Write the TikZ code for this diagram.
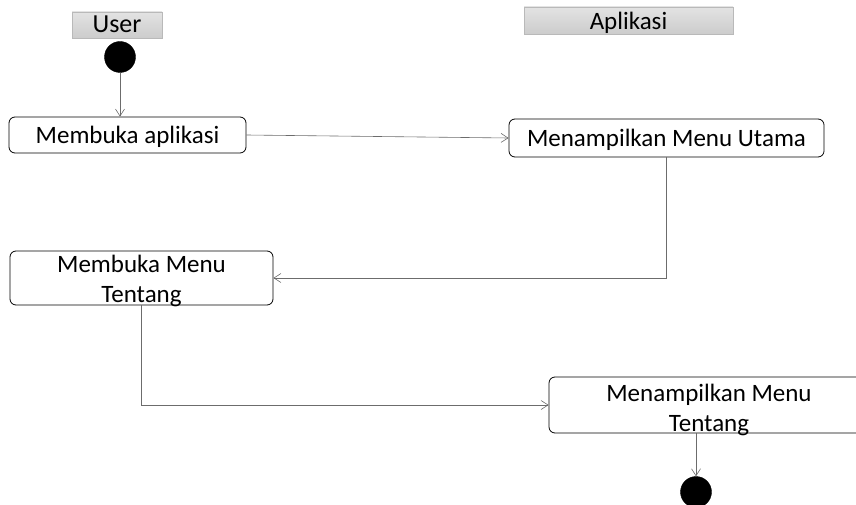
\documentclass[tikz,border=0pt]{standalone}
\usepackage{fontspec}
\setmainfont{Carlito}
\usetikzlibrary{arrows.meta}
\begin{document}
\begin{tikzpicture}[x=1pt,y=-1pt,
  lane/.style={draw=gray!55, top color=gray!22, bottom color=gray!40, inner sep=0pt, anchor=center, text height=17pt, text depth=1pt},
  act/.style={draw=black, rounded corners=6pt, line width=0.8pt, inner sep=0pt, anchor=center, font=\fontsize{25}{30}\selectfont, text height=18pt, text depth=0pt},
  actlabel/.style={align=center, inner sep=0pt, font=\fontsize{25}{30}\selectfont},
  dot/.style={circle, fill=black, draw=black, minimum size=31pt, inner sep=0pt},
  flow/.style={draw=gray!85!black, line width=0.6pt, -{Straight Barb[length=7pt,width=9pt]}}
]
\useasboundingbox (0,0) rectangle (856,505);
\clip (0,0) rectangle (856,505);

% swimlane headings
\node[lane, minimum width=90pt, minimum height=26pt, font=\fontsize{26}{28}\selectfont] (huser) at (117,25) {User};
\node[lane, minimum width=209pt, minimum height=27pt, font=\fontsize{25}{27}\selectfont, text height=19pt, text depth=0pt] (happ) at (628.5,20.5) {Aplikasi};

% start and end states
\node[dot] (start) at (120,57) {};
\node[dot] (stop) at (696,492) {};

% activities
\node[act, minimum width=237pt, minimum height=36pt] (b1) at (127.5,135) {Membuka aplikasi};
\node[act, minimum width=315pt, minimum height=38pt] (b2) at (666.5,138) {Menampilkan Menu Utama};
\node[act, minimum width=263pt, minimum height=54pt] (b3) at (141.5,278) {};
\node[actlabel] (t3) at ([yshift=-2.5]b3.center) {Membuka Menu\\Tentang};
\node[act, minimum width=320pt, minimum height=56pt] (b4) at (709,405) {};
\node[actlabel] (t4) at ([yshift=-5]b4.center) {Menampilkan Menu\\Tentang};

% control flow
\draw[flow] (start.south) -- (start.south |- b1.north);
\draw[flow] (b1.east) -- (b2.west);
\draw[flow] (b2.south) |- (b3.east);
\draw[flow] (b3.south) |- (b4.west);
\draw[flow] (stop.north |- b4.south) -- (stop.north);
\end{tikzpicture}
\end{document}
